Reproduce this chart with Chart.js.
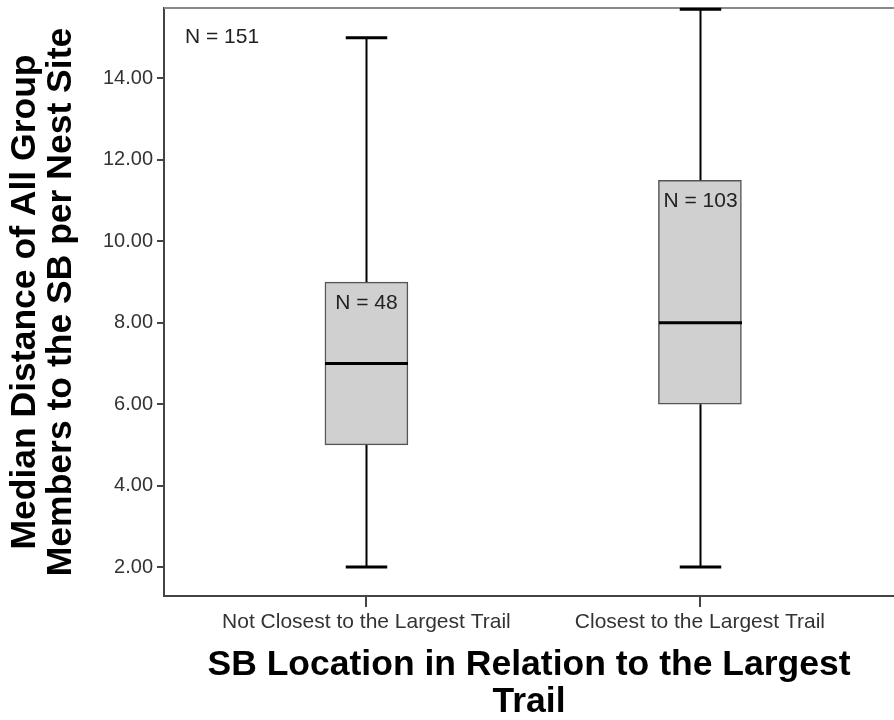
<!DOCTYPE html>
<html lang="en">
<head>
    <meta charset="UTF-8">
    <title>Median Distance Boxplot</title>
    <script src="https://cdn.jsdelivr.net/npm/chart.js"></script>
    <style>
        body { margin: 0; background: #fff; }
    </style>
</head>
<body>
    <canvas id="boxChart" width="894" height="720"></canvas>

    <script>
        // Dados
        const categories = ['Not Closest to the Largest Trail', 'Closest to the Largest Trail'];
        const whiskerLow = [2, 2];
        const q1 = [5, 6];
        const medians = [7, 8];
        const q3 = [9, 11.5];
        const whiskerHigh = [15, 15.7];
        const groupN = [48, 103];
        const totalN = 151;
        const yTicks = [2, 4, 6, 8, 10, 12, 14];

        const FONT = '"Liberation Sans", Arial, sans-serif';

        // Bigodes, medianas e rótulos N
        const boxPlotExtras = {
            id: 'boxPlotExtras',
            beforeDatasetsDraw(chart) {
                const { ctx, chartArea } = chart;
                ctx.save();
                ctx.strokeStyle = '#8a8a8a';
                ctx.lineWidth = 2;
                ctx.beginPath();
                ctx.moveTo(chartArea.left, chartArea.top);
                ctx.lineTo(chartArea.right, chartArea.top);
                ctx.stroke();
                ctx.restore();
            },
            afterDatasetsDraw(chart) {
                const { ctx, chartArea, scales: { x, y } } = chart;
                const bars = chart.getDatasetMeta(0).data;
                ctx.save();
                ctx.lineCap = 'butt';
                categories.forEach((c, i) => {
                    const cx = Math.round(x.getPixelForValue(i + 1)) + 0.5;
                    const half = bars[i].width / 2;

                    ctx.strokeStyle = '#000';
                    ctx.lineWidth = 2;
                    ctx.beginPath();
                    ctx.moveTo(cx, y.getPixelForValue(whiskerLow[i]));
                    ctx.lineTo(cx, y.getPixelForValue(q1[i]));
                    ctx.moveTo(cx, y.getPixelForValue(q3[i]));
                    ctx.lineTo(cx, y.getPixelForValue(whiskerHigh[i]));
                    ctx.stroke();

                    ctx.lineWidth = 3;
                    ctx.beginPath();
                    ctx.moveTo(cx - half / 2, y.getPixelForValue(whiskerLow[i]));
                    ctx.lineTo(cx + half / 2, y.getPixelForValue(whiskerLow[i]));
                    ctx.moveTo(cx - half / 2, y.getPixelForValue(whiskerHigh[i]));
                    ctx.lineTo(cx + half / 2, y.getPixelForValue(whiskerHigh[i]));
                    ctx.moveTo(cx - half, y.getPixelForValue(medians[i]));
                    ctx.lineTo(cx + half, y.getPixelForValue(medians[i]));
                    ctx.stroke();

                    ctx.font = '21px ' + FONT;
                    ctx.fillStyle = '#222';
                    ctx.textAlign = 'center';
                    ctx.textBaseline = 'alphabetic';
                    ctx.fillText('N = ' + groupN[i], cx, y.getPixelForValue(q3[i]) + 27);
                });

                ctx.textAlign = 'left';
                ctx.fillText('N = ' + totalN, chartArea.left + 21, chartArea.top + 35);
                ctx.restore();
            }
        };

        const ctxBox = document.getElementById('boxChart').getContext('2d');
        const boxChart = new Chart(ctxBox, {
            type: 'bar',
            data: {
                datasets: [{
                    data: categories.map((c, i) => ({ x: i + 1, y: [q1[i], q3[i]] })),
                    backgroundColor: '#d0d0d0',
                    borderColor: '#555',
                    borderWidth: 1.5,
                    borderSkipped: false,
                    barThickness: 83
                }]
            },
            options: {
                responsive: false,
                animation: false,
                layout: { padding: { top: 8, left: 0, right: 0, bottom: 0 } },
                plugins: {
                    legend: { display: false },
                    tooltip: { enabled: false }
                },
                scales: {
                    x: {
                        type: 'linear',
                        offset: false,
                        min: 0.393,
                        max: 2.582,
                        afterBuildTicks: (scale) => {
                            scale.ticks = categories.map((c, i) => ({ value: i + 1 }));
                        },
                        afterFit: (scale) => {
                            scale.height = 124;
                            scale.paddingLeft = 0;
                            scale.paddingRight = 0;
                        },
                        grid: {
                            offset: false,
                            drawOnChartArea: false,
                            drawTicks: true,
                            tickLength: 11,
                            color: '#444',
                            lineWidth: 2
                        },
                        border: { display: true, color: '#444', width: 2 },
                        ticks: {
                            autoSkip: false,
                            maxRotation: 0,
                            padding: 3,
                            color: '#333',
                            font: { family: FONT, size: 21 },
                            callback: (value) => categories[value - 1]
                        },
                        title: {
                            display: true,
                            text: ['SB Location in Relation to the Largest', 'Trail'],
                            color: '#000',
                            padding: 0,
                            font: { family: FONT, size: 35.5, weight: 'bold', lineHeight: 1.02 }
                        }
                    },
                    y: {
                        min: 1.29,
                        max: 15.73,
                        afterBuildTicks: (scale) => {
                            scale.ticks = yTicks.map(v => ({ value: v }));
                        },
                        afterFit: (scale) => {
                            scale.width = 164;
                            scale.paddingTop = 0;
                            scale.paddingBottom = 0;
                        },
                        grid: {
                            drawOnChartArea: false,
                            drawTicks: true,
                            tickLength: 7,
                            color: '#444',
                            lineWidth: 2
                        },
                        border: { display: true, color: '#444', width: 2 },
                        ticks: {
                            padding: 4,
                            color: '#333',
                            font: { family: FONT, size: 20 },
                            callback: (value) => Number(value).toFixed(2)
                        },
                        title: {
                            display: true,
                            text: ['Median Distance of All Group', 'Members to the SB per Nest Site'],
                            color: '#000',
                            padding: { top: 8, bottom: 0 },
                            font: { family: FONT, size: 35.5, weight: 'bold', lineHeight: 0.99 }
                        }
                    }
                }
            },
            plugins: [boxPlotExtras]
        });
    </script>
</body>
</html>
